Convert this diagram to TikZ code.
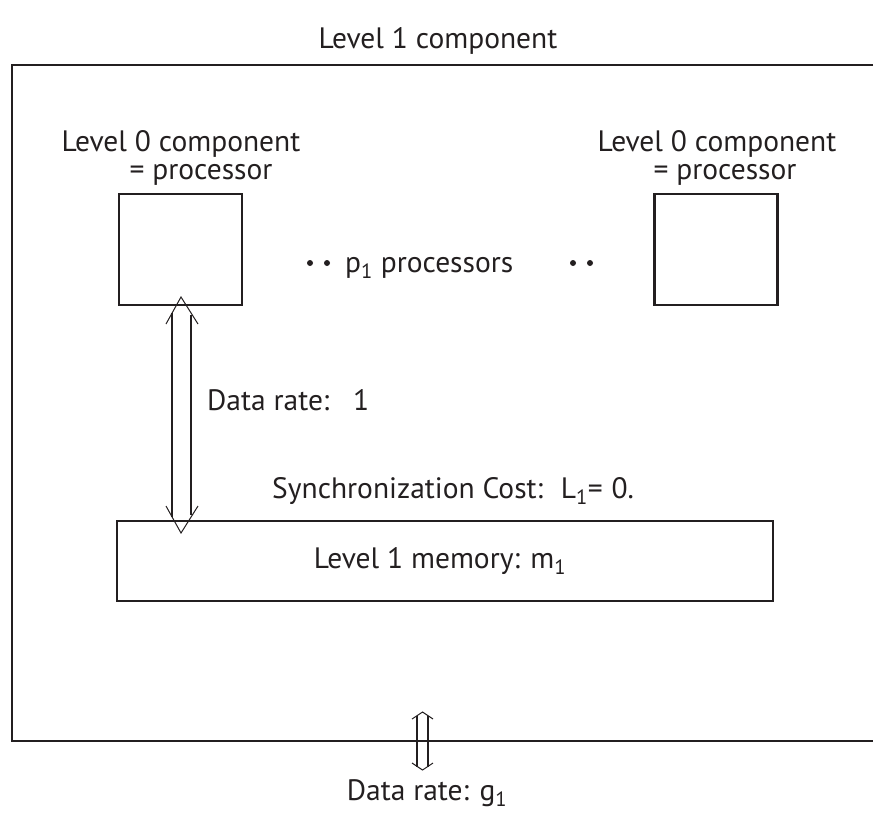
\documentclass[tikz,border=0pt]{standalone}
\usepackage{fontspec}
\setmainfont{PT Sans}
\definecolor{ink}{RGB}{35,31,32}
\begin{document}
\begin{tikzpicture}[x=1pt,y=-1pt, color=ink,
  lbl/.style={font=\fontsize{29.5}{34}\selectfont, inner sep=0pt, anchor=base, text=ink},
  procbox/.style={draw=ink, line width=2.7pt, minimum width=123pt, minimum height=111pt, inner sep=0pt},
  membox/.style={draw=ink, line width=2.7pt, minimum width=656pt, minimum height=80pt, inner sep=0pt},
  outerline/.style={draw=ink, line width=2pt},
  shaft/.style={draw=ink, line width=2pt},
  headline/.style={draw=ink, line width=1pt}]
\useasboundingbox (0,0) rectangle (874,812);
% outer component frame
\draw[outerline] (873,65) -- (12,65) -- (12,741) -- (873,741);
\node[lbl] (title) at (438,48) {Level 1 component};
% processors
\node[procbox] (p1) at (180.5,249.5) {};
\node[procbox] (p2) at (716,249.5) {};
\node[lbl] (p1a) at (181,151) {Level 0 component};
\node[lbl] (p1b) at (201,179) {= processor};
\node[lbl] (p2a) at (717,151) {Level 0 component};
\node[lbl] (p2b) at (725,179) {= processor};
\fill[ink] (310,263) circle (3pt);
\fill[ink] (327,263) circle (3pt);
\node[lbl, anchor=base west] (pcount) at (345,272) {p\textsubscript{1} processors};
\fill[ink] (573,263) circle (3pt);
\fill[ink] (590,263) circle (3pt);
% memory
\node[membox] (mem) at (445,561) {};
\node[lbl] (memlbl) at (440,561) [anchor=center] {Level 1 memory:\hspace{0.35em}m\textsubscript{1}};
\node[lbl, anchor=base west] (rate1) at (207,410) {Data rate:\hspace{0.8em}1};
\node[lbl, anchor=base west] (sync) at (272,498) {Synchronization Cost:\hspace{0.6em}L\textsubscript{1}=\hspace{0.3em}0.};
% double arrow between processor and memory
\coordinate (at) at (181,297);
\coordinate (ab) at (181,533);
\draw[headline] (166,324) -- (at) -- (198,324);
\draw[headline] (166,506) -- (ab) -- (198,506);
\draw[shaft] (172,313) -- (172,517);
\draw[shaft] (191,315) -- (191,515);
% bottom double arrow
\coordinate (bt) at (422.5,712);
\coordinate (bb) at (422.5,770);
\draw[headline] (412,719) -- (bt) -- (433,719);
\draw[headline] (412,763) -- (bb) -- (433,763);
\draw[shaft] (417,715.5) -- (417,766.5);
\draw[shaft] (428,715.5) -- (428,766.5);
\node[lbl] (rateg) at (427,800) {Data rate: g\textsubscript{1}};
\end{tikzpicture}
\end{document}
